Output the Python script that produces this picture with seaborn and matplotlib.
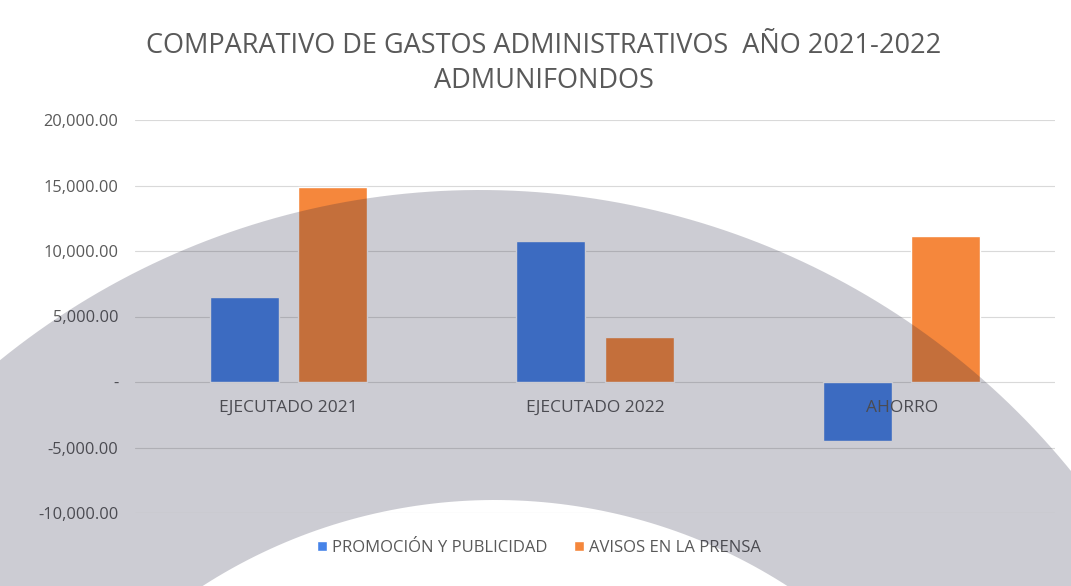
import numpy as np
import pandas as pd
import matplotlib
matplotlib.use("Agg")
import matplotlib.pyplot as plt
from matplotlib.path import Path
from matplotlib.patches import PathPatch
import seaborn as sns

# datos
categorias = ["EJECUTADO 2021", "EJECUTADO 2022", "AHORRO"]
series = ["PROMOCIÓN Y PUBLICIDAD", "AVISOS EN LA PRENSA"]
promocion = [6500, 10750, -4500]
avisos = [14850, 3450, 11150]
y_ticks = [-10000, -5000, 0, 5000, 10000, 15000, 20000]
colores = ["#4683E8", "#F5873C"]
titulo = ["COMPARATIVO DE GASTOS ADMINISTRATIVOS  AÑO 2021-2022", "ADMUNIFONDOS"]

df = pd.DataFrame({
    "categoria": categorias * 2,
    "serie": [series[0]] * 3 + [series[1]] * 3,
    "valor": promocion + avisos,
})

sns.set_style("white")
plt.rcParams["font.family"] = ["Open Sans", "DejaVu Sans"]
gris = "#595959"

W, H = 1071, 586
fig = plt.figure(figsize=(W / 100, H / 100), dpi=100)
ax = fig.add_axes([135 / W, (H - 513) / H, 920 / W, 393 / H])

sns.barplot(data=df, x="categoria", y="valor", hue="serie", palette=colores,
            width=0.575, gap=0.216, saturation=1, errorbar=None, ax=ax)

ax.set_ylim(-10000, 20000)
ax.set_yticks(y_ticks)
ax.set_yticklabels(["-" if v == 0 else f"{v:,.2f}" for v in y_ticks])
ax.set_xlabel("")
ax.set_ylabel("")
ax.yaxis.grid(True, color="#d9d9d9", lw=0.8)
ax.set_axisbelow(True)
ax.xaxis.set_zorder(3)  # etiqueta AHORRO encima de la barra
for s in ax.spines.values():
    s.set_visible(False)
ax.spines["bottom"].set_position(("data", 0))
ax.tick_params(axis="y", length=0, pad=12, labelsize=11.8, labelcolor=gris)
ax.tick_params(axis="x", length=0, pad=13, labelsize=12.5, labelcolor=gris)

ax.legend(loc="center", bbox_to_anchor=(0.503, (H - 548) / H), bbox_transform=fig.transFigure,
          ncol=2, frameon=False, handlelength=0.6, handleheight=0.6,
          handletextpad=0.3, columnspacing=1.6, fontsize=12, labelcolor=gris)

fig.text(544 / W, 1 - 46 / H, titulo[0], ha="center", va="center", fontsize=19.5, color=gris)
fig.text(544 / W, 1 - 81 / H, titulo[1], ha="center", va="center", fontsize=19.5, color=gris)

# marca de agua gris del escaneo (anillo)
def circulo(cx, cy, r, sentido=1):
    t = np.linspace(0, 2 * np.pi, 400)[::sentido]
    return np.column_stack([(cx + r * np.cos(t)) / W, (H - (cy + r * np.sin(t))) / H])

ext = circulo(480, 952, 762)
inn = circulo(495, 1040, 540, -1)
verts = np.vstack([ext, inn])
codes = ([Path.MOVETO] + [Path.LINETO] * (len(ext) - 1) +
         [Path.MOVETO] + [Path.LINETO] * (len(inn) - 1))
anillo = PathPatch(Path(verts, codes), transform=fig.transFigure,
                   facecolor=(0.1, 0.1, 0.22), alpha=0.22, edgecolor="none", zorder=5)
fig.add_artist(anillo)

fig.savefig("out.png", dpi=100)
